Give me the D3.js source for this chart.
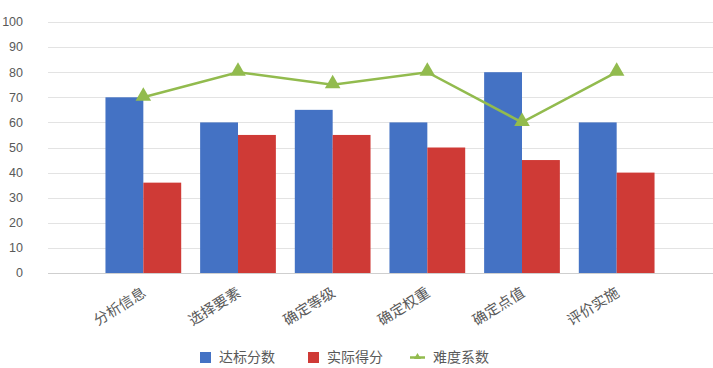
<!DOCTYPE html>
<html>
<head>
<meta charset="utf-8">
<script src="https://cdn.jsdelivr.net/npm/d3@7"></script>
<style>
  body { margin: 0; background: #fff; }
  text { font-family: "Liberation Sans", "Noto Sans CJK SC", sans-serif; fill: #595959; }
  .cn { font-family: "Noto Sans CJK SC", sans-serif; }
</style>
</head>
<body>
<svg id="chart" width="713" height="368"></svg>
<script>
const categories = ["分析信息", "选择要素", "确定等级", "确定权重", "确定点值", "评价实施"];
const targetScores = [70, 60, 65, 60, 80, 60];   // 达标分数
const actualScores = [36, 55, 55, 50, 45, 40];   // 实际得分
const difficulty = [70, 80, 75, 80, 60, 80];     // 难度系数
const yTicks = [0, 10, 20, 30, 40, 50, 60, 70, 80, 90, 100];

const seriesNames = ["达标分数", "实际得分", "难度系数"];
const colors = ["#4472C4", "#CF3A36", "#92BB4E"];

let svg = d3.select("svg#chart");

// plot area (grid runs wider than the category bands)
let gridLeft = 48, gridRight = 713;

let y = d3.scaleLinear().domain([0, 100]).range([273, 22]);

let x = d3.scaleBand()
  .domain(categories)
  .range([96, 664])
  .paddingInner(0.2)
  .paddingOuter(0.1);

let xSub = d3.scaleBand()
  .domain([0, 1])
  .range([0, x.bandwidth()]);

// gridlines
svg.append("g")
  .selectAll("line")
  .data(yTicks.filter(d => d > 0))
  .enter()
  .append("line")
  .attr("x1", gridLeft)
  .attr("x2", gridRight)
  .attr("y1", d => Math.round(y(d)) + 0.5)
  .attr("y2", d => Math.round(y(d)) + 0.5)
  .attr("stroke", "#e3e3e3")
  .attr("stroke-width", 1);

// y labels
svg.append("g")
  .selectAll("text")
  .data(yTicks)
  .enter()
  .append("text")
  .attr("x", 23)
  .attr("y", d => y(d))
  .attr("dy", "0.35em")
  .attr("text-anchor", "end")
  .attr("font-size", 12.5)
  .text(d => d);

// bars
let groups = svg.append("g")
  .selectAll("g")
  .data(categories)
  .enter()
  .append("g")
  .attr("transform", d => `translate(${x(d)},0)`);

groups.append("rect")
  .attr("x", 0)
  .attr("width", xSub.bandwidth())
  .attr("y", (d, i) => y(targetScores[i]))
  .attr("height", (d, i) => y(0) - y(targetScores[i]))
  .attr("fill", colors[0]);

groups.append("rect")
  .attr("x", xSub(1))
  .attr("width", xSub.bandwidth())
  .attr("y", (d, i) => y(actualScores[i]))
  .attr("height", (d, i) => y(0) - y(actualScores[i]))
  .attr("fill", colors[1]);

// category axis line
svg.append("line")
  .attr("x1", gridLeft)
  .attr("x2", gridRight)
  .attr("y1", Math.round(y(0)) + 0.5)
  .attr("y2", Math.round(y(0)) + 0.5)
  .attr("stroke", "#cfcfcf");

// difficulty line
let cx = d => x(d) + x.bandwidth() / 2;
let line = d3.line()
  .x((d, i) => cx(categories[i]))
  .y(d => y(d));

svg.append("path")
  .datum(difficulty)
  .attr("d", line)
  .attr("fill", "none")
  .attr("stroke", colors[2])
  .attr("stroke-width", 2.5);

let tri = d3.symbol().type(d3.symbolTriangle).size(105);
svg.append("g")
  .selectAll("path")
  .data(difficulty)
  .enter()
  .append("path")
  .attr("d", tri)
  .attr("transform", (d, i) => `translate(${cx(categories[i])},${y(d) - 1})`)
  .attr("fill", colors[2]);

// x labels, rotated
svg.append("g")
  .selectAll("text")
  .data(categories)
  .enter()
  .append("text")
  .attr("class", "cn")
  .attr("font-size", 14.5)
  .attr("text-anchor", "end")
  .attr("transform", d => `translate(${cx(d) + 1},${291}) rotate(-32)`)
  .attr("dy", "0.35em")
  .text(d => d);

// legend
let legendX = [200, 308, 410];
let legend = svg.append("g")
  .selectAll("g")
  .data(seriesNames)
  .enter()
  .append("g")
  .attr("transform", (d, i) => `translate(${legendX[i]},357)`);

legend.filter((d, i) => i < 2)
  .append("rect")
  .attr("x", 0)
  .attr("y", -5)
  .attr("width", 11)
  .attr("height", 11)
  .attr("fill", (d, i) => colors[i]);

let lg = legend.filter((d, i) => i === 2);
lg.append("line")
  .attr("x1", 0).attr("x2", 15)
  .attr("y1", 0.5).attr("y2", 0.5)
  .attr("stroke", colors[2])
  .attr("stroke-width", 2.5);
lg.append("path")
  .attr("d", d3.symbol().type(d3.symbolTriangle).size(22))
  .attr("transform", "translate(7.5,0)")
  .attr("fill", colors[2]);

legend.append("text")
  .attr("class", "cn")
  .attr("x", (d, i) => i < 2 ? 19 : 23)
  .attr("y", 0)
  .attr("dy", "0.35em")
  .attr("font-size", 14)
  .text(d => d);
</script>
</body>
</html>
